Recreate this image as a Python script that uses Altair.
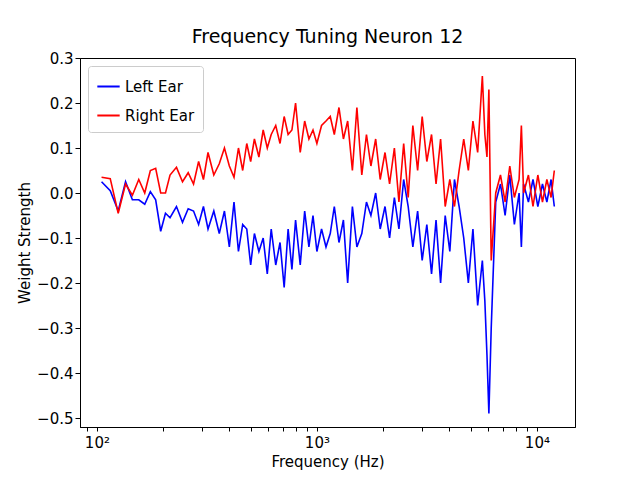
import altair as alt
import pandas as pd

freqs = [105, 115, 125, 135, 145, 155, 165, 175, 185, 195, 205, 215, 230, 245, 260, 275, 290, 305, 320, 340,
         360, 380, 400, 420, 440, 460, 480, 500, 520, 545, 570, 595, 620, 650, 680, 710, 740, 770, 800, 840,
         880, 920, 960, 1000, 1050, 1100, 1150, 1200, 1260, 1320, 1380, 1450, 1520, 1600, 1680, 1760, 1850, 1940, 2040, 2140,
         2250, 2360, 2480, 2600, 2730, 2870, 3010, 3160, 3320, 3480, 3650, 3830, 4020, 4220, 4430, 4650, 4880, 5120, 5380, 5650,
         5800, 5930, 6050, 6200, 6500, 6830, 7170, 7530, 7900, 8300, 8500, 8700, 9150, 9600, 10100, 10600, 11100, 11600, 12000]

right_ear = [0.035, 0.032, -0.045, 0.02, -0.005, 0.03, 0.0, 0.05, 0.055, 0.0, 0.0, 0.04, 0.057, 0.025, 0.045, 0.02, 0.07, 0.03, 0.09, 0.04,
             0.065, 0.1, 0.06, 0.035, 0.1, 0.05, 0.11, 0.07, 0.12, 0.08, 0.14, 0.1, 0.13, 0.15, 0.11, 0.17, 0.13, 0.14, 0.2, 0.09,
             0.16, 0.12, 0.14, 0.11, 0.15, 0.16, 0.17, 0.13, 0.19, 0.12, 0.16, 0.05, 0.19, 0.04, 0.13, 0.06, 0.12, 0.03, 0.09, 0.02,
             0.1, -0.02, 0.11, -0.01, 0.15, 0.05, 0.17, 0.07, 0.13, 0.02, 0.12, -0.03, 0.03, -0.03, 0.05, 0.12, 0.05, 0.16, 0.09, 0.26,
             0.13, 0.08, 0.23, -0.15, 0.0, 0.04, -0.02, 0.06, -0.01, 0.03, 0.15, 0.0, 0.04, -0.03, 0.04, -0.02, 0.03, -0.01, 0.05]

left_ear = [0.025, 0.005, -0.04, 0.025, -0.015, -0.015, -0.025, 0.003, -0.015, -0.085, -0.045, -0.055, -0.03, -0.065, -0.035, -0.04, -0.07, -0.03, -0.08, -0.04,
            -0.09, -0.04, -0.12, -0.02, -0.13, -0.07, -0.08, -0.16, -0.09, -0.13, -0.1, -0.18, -0.08, -0.16, -0.11, -0.21, -0.08, -0.17, -0.06, -0.16,
            -0.04, -0.12, -0.05, -0.13, -0.08, -0.12, -0.09, -0.03, -0.11, -0.06, -0.2, -0.03, -0.12, -0.09, -0.02, -0.05, 0.0, -0.08, -0.03, -0.1,
            -0.01, -0.08, 0.03, -0.03, -0.12, -0.04, -0.15, -0.07, -0.18, -0.06, -0.2, -0.05, -0.13, 0.03, -0.03, -0.1, -0.2, -0.08, -0.25, -0.15,
            -0.24, -0.36, -0.49, -0.3, -0.02, 0.02, -0.05, 0.04, -0.07, 0.0, -0.12, 0.02, -0.02, 0.03, -0.03, 0.02, -0.02, 0.03, -0.03]

df = pd.concat([
    pd.DataFrame({"freq": freqs, "w": left_ear, "ear": "Left Ear"}),
    pd.DataFrame({"freq": freqs, "w": right_ear, "ear": "Right Ear"}),
])

minor = [90] + [m * 10 ** e for e in (2, 3) for m in range(1, 10)] + [10000]
font = "DejaVu Sans"

chart = alt.Chart(df).mark_line(strokeWidth=1.6, clip=True).encode(
    x=alt.X("freq:Q", title="Frequency (Hz)",
            scale=alt.Scale(type="log", domain=[83.8, 14900], nice=False),
            axis=alt.Axis(values=minor, tickSize=4, labelPadding=4,
                          labelExpr="datum.value == 100 ? '10²' : datum.value == 1000 ? '10³' : datum.value == 10000 ? '10⁴' : ''")),
    y=alt.Y("w:Q", title="Weight Strength",
            scale=alt.Scale(domain=[-0.52, 0.3], nice=False, zero=False),
            axis=alt.Axis(values=[-0.5, -0.4, -0.3, -0.2, -0.1, 0.0, 0.1, 0.2, 0.3], format=".1f", tickSize=5)),
    color=alt.Color("ear:N", scale=alt.Scale(domain=["Left Ear", "Right Ear"], range=["#0000ff", "#ff0000"]),
                    legend=alt.Legend(title=None, orient="top-left", symbolType="stroke", symbolSize=500,
                                      symbolStrokeWidth=2, fillColor="white", strokeColor="#cccccc",
                                      padding=8, cornerRadius=3, offset=8, rowPadding=8)),
).properties(
    width=495, height=369,
    title=alt.TitleParams("Frequency Tuning Neuron 12", fontSize=19, font=font, fontWeight="normal", color="black"),
    autosize=alt.AutoSizeParams(type="none"),
    padding={"left": 72, "top": 50, "right": 10, "bottom": 50},
).configure_view(
    stroke="black", strokeWidth=1
).configure_axis(
    grid=False, tickColor="black", domainColor="black", labelFontSize=15, titleFontSize=15,
    labelColor="black", titleColor="black", titleFontWeight="normal", labelFont=font, titleFont=font
).configure_legend(
    labelFontSize=15, labelFont=font, labelColor="black"
)

chart.save("out.html", embed_options={"renderer": "svg", "actions": False})
